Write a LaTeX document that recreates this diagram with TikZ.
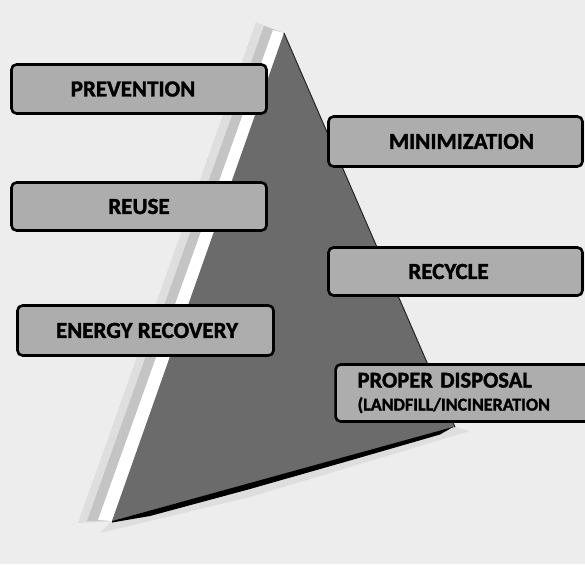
\documentclass[tikz,border=0pt]{standalone}
\usepackage{fontspec}
\setmainfont{Carlito}[BoldFeatures={FakeBold=1.6}]
\definecolor{bggray}{rgb}{0.93,0.93,0.93}
\definecolor{boxgray}{rgb}{0.68,0.68,0.68}
\definecolor{darkface}{rgb}{0.42,0.42,0.42}
\definecolor{hazegray}{rgb}{0.87,0.87,0.87}
\definecolor{stripegray}{rgb}{0.77,0.77,0.77}
\tikzset{
  lbl/.style={draw=black, line width=2.6pt, rounded corners=5pt, fill=boxgray,
    font=\fontsize{23}{26}\selectfont\bfseries, text=black, inner sep=0pt,
    minimum height=49pt},
}
\begin{document}
\begin{tikzpicture}[x=1pt,y=-1pt]
\useasboundingbox (0,0) rectangle (585,564);
\fill[bggray] (0,0) rectangle (585,564);
% light side of the pyramid
\fill[hazegray] (256,22) -- (78,523) -- (112,521) -- (284,33) -- cycle;
\fill[stripegray] (264,26) -- (87,521) -- (112,521) -- (284,33) -- cycle;
\fill[white] (273,30) -- (98,520) -- (112,521) -- (284,33) -- cycle;
% faint shadow under the base
\fill[hazegray] (112,521) -- (455,427) -- (470,431) -- (250,497) -- (100,533) -- cycle;
% dark face
\fill[darkface] (284,33) -- (455,427) -- (112,521) -- cycle;
\draw[black!85, line width=1pt] (284,33) -- (455,427);
\fill[black] (112,521) -- (453,427) -- (440,434.5) -- (350,460.5) -- (250,489) -- (150,516) -- (112,522.5) -- cycle;
% labels
\node[lbl, minimum width=255pt, minimum height=49pt] (prev) at (139,89) {\hspace*{-12pt}PREVENTION};
\node[lbl, minimum width=255pt, minimum height=48pt] (reuse) at (139,206.5) {REUSE};
\node[lbl, minimum width=256pt, minimum height=50pt] (energy) at (145.5,330.5) {\hspace*{3pt}ENERGY RECOVERY};
\node[lbl, minimum width=254pt, minimum height=50pt] (mini) at (455.5,141.5) {\hspace*{12pt}MINIMIZATION};
\node[lbl, minimum width=254pt, minimum height=48pt] (recycle) at (455.5,271.5) {\hspace*{-14pt}RECYCLE};
\node[lbl, anchor=west, align=left, text width=210pt, inner xsep=22pt,
      minimum height=57pt, font=\fontsize{22.5}{26}\selectfont\bfseries] (disp) at (334.3,393)
  {PROPER DISPOSAL\\[-3pt]{\fontsize{18}{20}\selectfont (LANDFILL/INCINERATION}};
\end{tikzpicture}
\end{document}
